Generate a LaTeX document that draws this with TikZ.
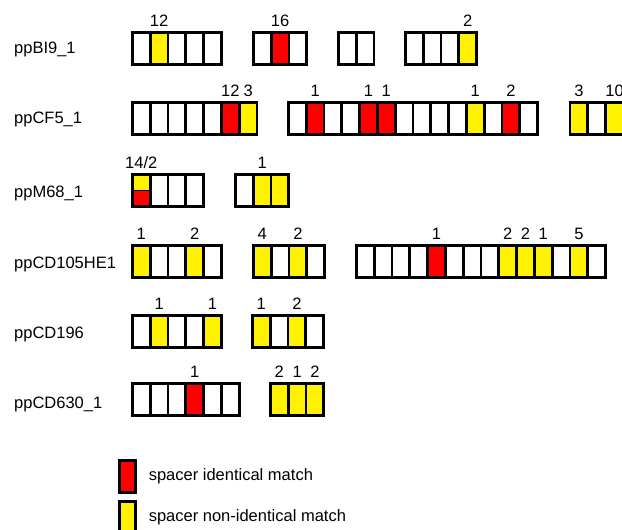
\documentclass[tikz,border=0pt]{standalone}
\usepackage{fontspec}
\setmainfont{Liberation Sans}
\usetikzlibrary{positioning}
\newcommand{\figfont}{\fontsize{16.5}{19}\selectfont}
\tikzset{
  % --- spacer cells (white | identical | non-identical | both) ---
  spacer/.style={draw, line width=2.9pt, fill=white, minimum width=17.8pt,
    minimum height=32.4pt, inner sep=0pt, outer sep=0pt, anchor=north west},
  spid/.style={spacer, fill=red},
  spnon/.style={spacer, fill=yellow},
  spmix/.style={spacer, fill=red, path picture={
      \fill[yellow] (path picture bounding box.north west)
        rectangle (path picture bounding box.east);
      \draw[line width=1.4pt] (path picture bounding box.west)
        -- (path picture bounding box.east);}},
  % --- texts ---
  strain/.style={font=\figfont, inner sep=0pt, anchor=base west},
  hits/.style={font=\figfont, inner sep=0pt},
}
% one CRISPR array: name, left x, top y, list of cell styles
\newcommand{\spacerarray}[4]{%
  \foreach \s [count=\i] in {#4}{
    \node[\s] (#1-\i) at ({#2+17.8*(\i-1)}, #3) {};
  }}

\begin{document}
\begin{tikzpicture}[x=1pt, y=-1pt]
  \path[use as bounding box, clip] (0,0) rectangle (622,530);

  % ---- strain names ----
  \node[strain] (bi9) at (14,53) {ppBI9\_1};
  \node[strain] (cf5) at (14,123) {ppCF5\_1};
  \node[strain] (m68) at (14,197) {ppM68\_1};
  \node[strain] (cd105) at (14,268) {ppCD105HE1};
  \node[strain] (cd196) at (14,338) {ppCD196};
  \node[strain] (cd630) at (14,408) {ppCD630\_1};

  % ---- arrays ----
  \spacerarray{bi9a}{132.4}{32.4}{spacer,spnon,spacer,spacer,spacer}
  \spacerarray{bi9b}{253.4}{32.4}{spacer,spid,spacer}
  \spacerarray{bi9c}{338.4}{32.4}{spacer,spacer}
  \spacerarray{bi9d}{405.4}{32.4}{spacer,spacer,spacer,spnon}

  \spacerarray{cf5a}{132.4}{102.4}{spacer,spacer,spacer,spacer,spacer,spid,spnon}
  \spacerarray{cf5b}{288.4}{102.4}{spacer,spid,spacer,spacer,spid,spid,spacer,
    spacer,spacer,spacer,spnon,spacer,spid,spacer}
  \spacerarray{cf5c}{570}{102.4}{spnon,spacer,spnon}

  \spacerarray{m68a}{132.4}{174.4}{spmix,spacer,spacer,spacer}
  \spacerarray{m68b}{235.4}{174.4}{spacer,spnon,spnon}

  \spacerarray{cd105a}{132.4}{245.4}{spnon,spacer,spacer,spnon,spacer}
  \spacerarray{cd105b}{253.4}{245.4}{spnon,spacer,spnon,spacer}
  \spacerarray{cd105c}{356.4}{245.4}{spacer,spacer,spacer,spacer,spid,spacer,
    spacer,spacer,spnon,spnon,spnon,spacer,spnon,spacer}

  \spacerarray{cd196a}{132.4}{315.4}{spacer,spnon,spacer,spacer,spnon}
  \spacerarray{cd196b}{252.4}{315.4}{spnon,spacer,spnon,spacer}

  \spacerarray{cd630a}{132.4}{383.4}{spacer,spacer,spacer,spid,spacer,spacer}
  \spacerarray{cd630b}{270.4}{383.4}{spnon,spnon,spnon}

  % ---- number of hits above the cells ----
  \foreach \c/\n in {bi9a-2/12, bi9b-2/16, bi9d-4/2,
      cf5a-6/12, cf5a-7/3, cf5b-2/1, cf5b-5/1, cf5b-6/1, cf5b-11/1, cf5b-13/2,
      cf5c-1/3, cf5c-3/10, m68b-2/1,
      cd105a-1/1, cd105a-4/2, cd105b-1/4, cd105b-3/2, cd105c-5/1, cd105c-9/2,
      cd105c-10/2, cd105c-11/1, cd105c-13/5,
      cd196a-2/1, cd196a-5/1, cd196b-1/1, cd196b-3/2,
      cd630a-4/1, cd630b-1/2, cd630b-2/1, cd630b-3/2}{
    \node[hits, above=5.4pt of \c] (\c-lab) {\n};
  }
  \node[hits, above=5.4pt of m68a-1] (m68a-1-lab) {14/2};

  % ---- legend ----
  \node[spid, minimum width=16.2pt] (legid) at (119.4,460.4) {};
  \node[spnon, minimum width=16.2pt] (legnon) at (119.4,501.4) {};
  \node[hits, right=13pt of legid] (legidtext) {spacer identical match};
  \node[hits, right=13pt of legnon] (legnontext) {spacer non-identical match};
\end{tikzpicture}
\end{document}
